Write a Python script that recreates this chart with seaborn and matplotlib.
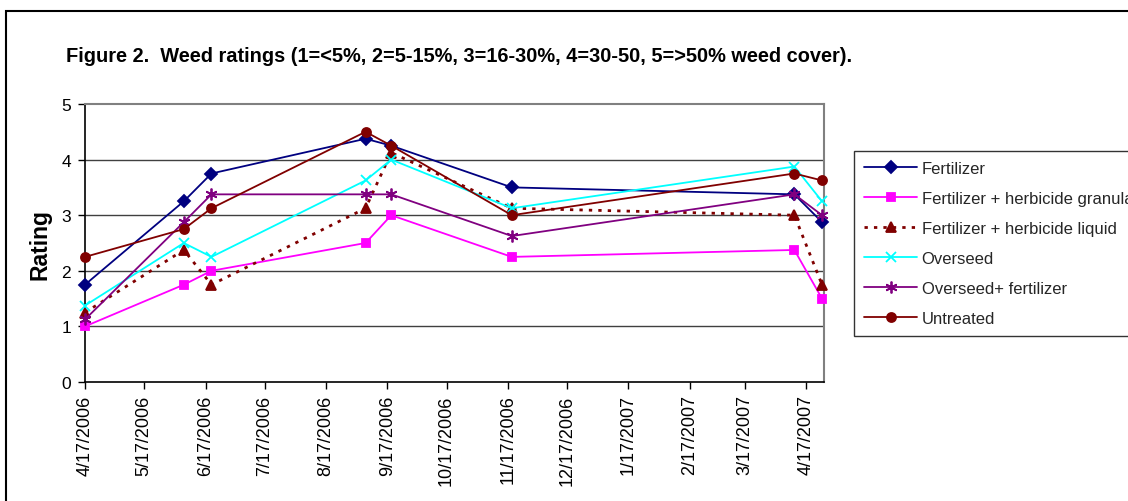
import matplotlib
matplotlib.use("Agg")
import matplotlib.pyplot as plt
from matplotlib.patches import Rectangle
import pandas as pd
import seaborn as sns

# Sampling dates for the weed ratings
dates = ["2006-04-17", "2006-06-06", "2006-06-20", "2006-09-06",
         "2006-09-19", "2006-11-19", "2007-04-11", "2007-04-25"]

# Ratings per treatment (1=<5%, 2=5-15%, 3=16-30%, 4=30-50%, 5=>50% weed cover)
fertilizer = [1.75, 3.25, 3.75, 4.375, 4.25, 3.5, 3.375, 2.875]
fert_herb_granular = [1.0, 1.75, 2.0, 2.5, 3.0, 2.25, 2.375, 1.5]
fert_herb_liquid = [1.25, 2.375, 1.75, 3.125, 4.125, 3.125, 3.0, 1.75]
overseed = [1.375, 2.5, 2.25, 3.625, 4.0, 3.125, 3.875, 3.25]
overseed_fert = [1.125, 2.875, 3.375, 3.375, 3.375, 2.625, 3.375, 3.0]
untreated = [2.25, 2.75, 3.125, 4.5, 4.25, 3.0, 3.75, 3.625]

series_names = ["Fertilizer", "Fertilizer + herbicide granular",
                "Fertilizer + herbicide liquid", "Overseed",
                "Overseed+ fertilizer", "Untreated"]
series_values = [fertilizer, fert_herb_granular, fert_herb_liquid,
                 overseed, overseed_fert, untreated]

# Monthly axis ticks on the 17th
tick_dates = [pd.Timestamp("2006-04-17") + pd.DateOffset(months=m) for m in range(13)]
tick_labels = [f"{d.month}/{d.day}/{d.year}" for d in tick_dates]

styles = {
    "Fertilizer": dict(color="#000080", marker="D", ms=6.0, ls="-"),
    "Fertilizer + herbicide granular": dict(color="#FF00FF", marker="s", ms=6.0, ls="-"),
    "Fertilizer + herbicide liquid": dict(color="#800000", marker="^", ms=7.0, ls=(0, (1.2, 2.2))),
    "Overseed": dict(color="#00FFFF", marker="x", ms=7.5, ls="-"),
    "Overseed+ fertilizer": dict(color="#800080", marker=(6, 2, 0), ms=8.5, ls="-"),
    "Untreated": dict(color="#800000", marker="o", ms=6.5, ls="-"),
}

sns.set_theme(style="white")
plt.rcParams["font.family"] = ["Liberation Sans", "DejaVu Sans"]

fig = plt.figure(figsize=(11.28, 5.02), dpi=100, facecolor="white")
W, H = 1128, 502
ax = fig.add_axes([85 / W, 1 - 383 / H, (824 - 85) / W, (383 - 105) / H])
ax.set_facecolor("white")

x = pd.to_datetime(dates)
for name, vals in zip(series_names, series_values):
    st = styles[name]
    df = pd.DataFrame({"date": x, "rating": vals})
    lw = 2.0 if name == "Fertilizer + herbicide liquid" else 1.3
    sns.lineplot(data=df, x="date", y="rating", ax=ax, label=name,
                 color=st["color"], marker=st["marker"], markersize=st["ms"],
                 markeredgecolor=st["color"], markerfacecolor=st["color"],
                 markeredgewidth=1.3, linewidth=lw, linestyle=st["ls"],
                 clip_on=False, zorder=3)

ax.set_xlim(pd.Timestamp("2006-04-17"), pd.Timestamp("2007-04-26"))
ax.set_ylim(0, 5)
ax.set_yticks([0, 1, 2, 3, 4, 5])
ax.set_xticks(tick_dates)
ax.set_xticklabels(tick_labels, rotation=90, fontsize=13, color="black")
ax.tick_params(axis="y", labelsize=12.5, colors="black", length=5, width=1,
               direction="out", pad=5, left=True)
ax.tick_params(axis="x", length=5, width=1, direction="out", pad=4, bottom=True,
               colors="black")
ax.set_xlabel("")
ax.set_ylabel("")

ax.grid(False)
for yv in [1, 2, 3, 4]:
    ax.axhline(yv, color="#404040", lw=1.0, zorder=1)

for side in ["left", "bottom"]:
    ax.spines[side].set_color("black")
    ax.spines[side].set_linewidth(1.2)
for side in ["top", "right"]:
    ax.spines[side].set_color("#808080")
    ax.spines[side].set_linewidth(1.5)
    ax.spines[side].set_visible(True)

leg = ax.legend(loc="upper left", bbox_to_anchor=(854 / W, 1 - 152 / H),
                bbox_transform=fig.transFigure, frameon=True, fancybox=False,
                edgecolor="black", fontsize=12, handlelength=3.2,
                handletextpad=0.25, labelspacing=0.9, borderpad=0.6,
                borderaxespad=0)
leg.get_frame().set_linewidth(1.0)

fig.text(66 / W, 1 - 57 / H,
         "Figure 2.  Weed ratings (1=<5%, 2=5-15%, 3=16-30%, 4=30-50, 5=>50% weed cover).",
         fontsize=14.4, fontweight="bold", ha="left", va="center", color="black")
fig.text(40 / W, 1 - 245 / H, "Rating", fontsize=16.5, fontweight="bold",
         rotation=90, ha="center", va="center", color="black")

# Outer frame of the chart area
fig.patches.append(Rectangle((6 / W, -0.2), 2.0, 1.2 - 12 / H,
                             transform=fig.transFigure, fill=False,
                             edgecolor="black", linewidth=1.5, zorder=0))

fig.savefig("out.png", dpi=100, facecolor="white")
